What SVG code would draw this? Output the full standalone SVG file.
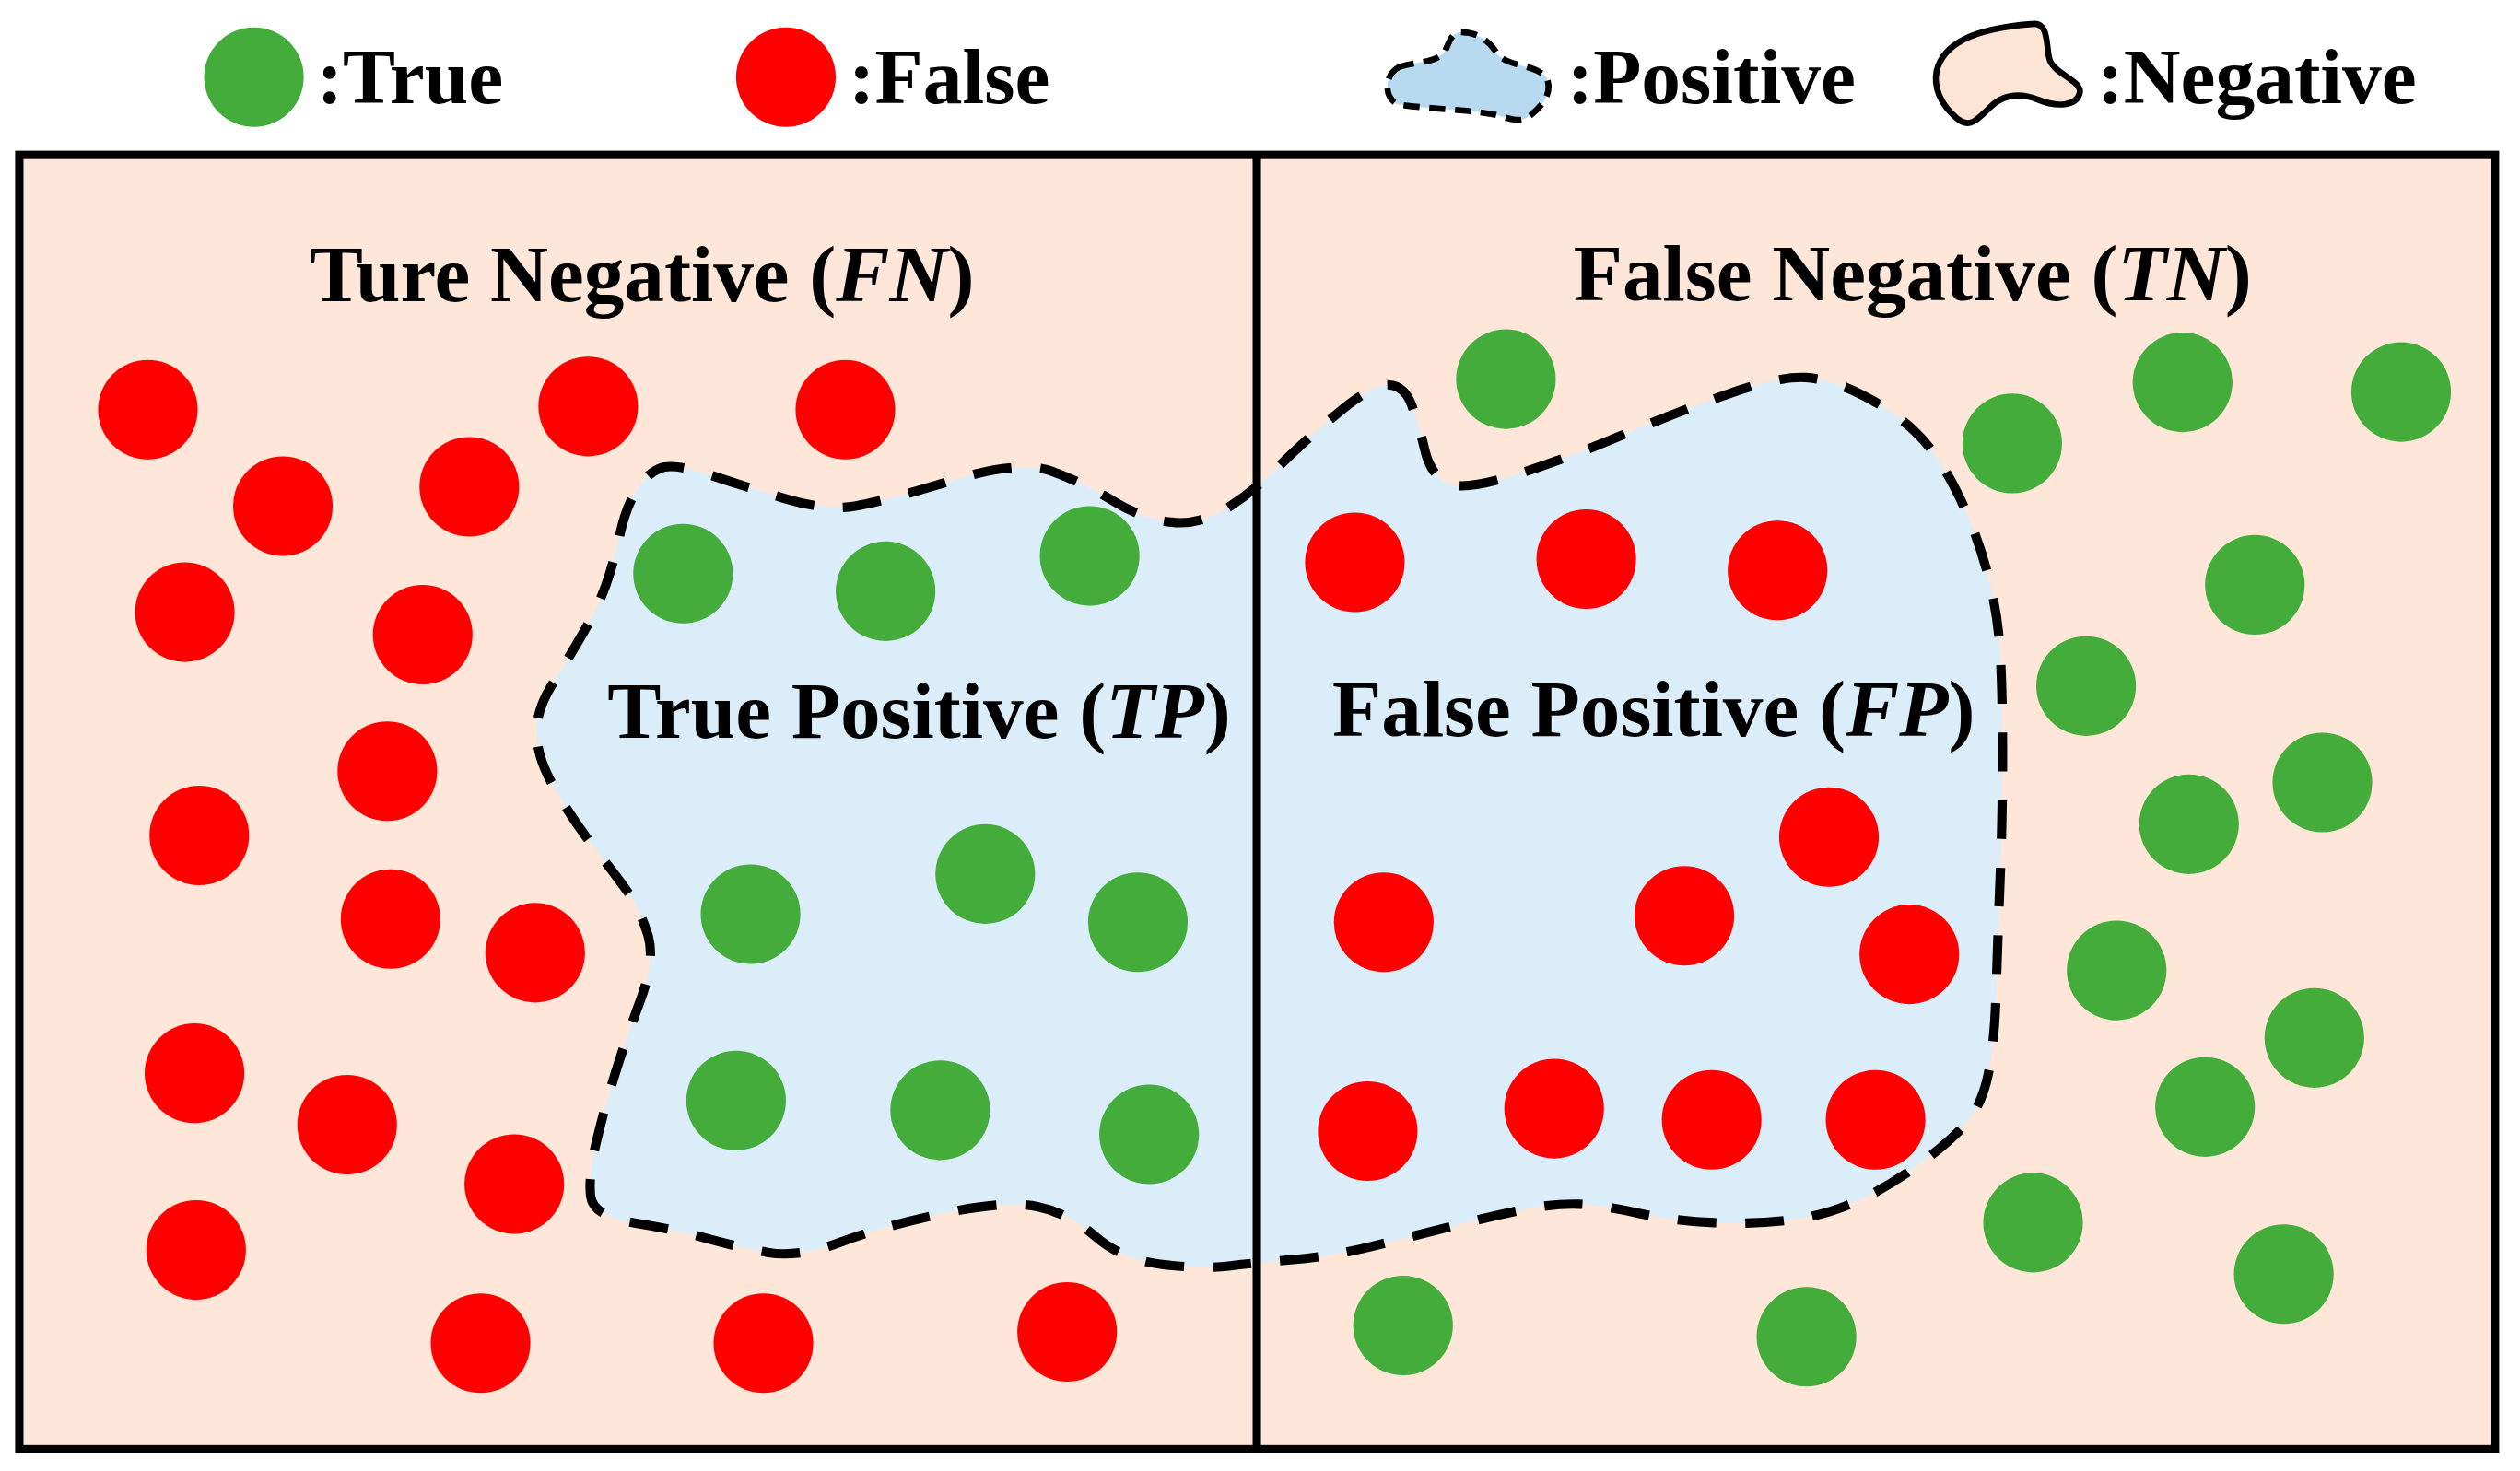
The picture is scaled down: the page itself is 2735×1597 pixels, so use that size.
<svg xmlns="http://www.w3.org/2000/svg" width="2735" height="1597" viewBox="0 0 2735 1597">
<style>
.t{font-family:"Liberation Serif","Times New Roman",serif;font-weight:bold;font-size:49px;fill:#000}
.h{font-size:50px}
.i{font-style:italic}
.g{fill:#43AC3B}
.r{fill:#FF0000}
.blob{fill:#DBEDF9;stroke:#000;stroke-width:5.8;stroke-dasharray:24 18;stroke-linejoin:round}
</style>
<rect width="2735" height="1597" fill="#fff"/>
<g transform="scale(1.7443)">
<g id="legend">
<g id="legend-true"><circle class="g" cx="158" cy="48" r="31"/><text class="t" x="197" y="64">:True</text></g>
<g id="legend-false"><circle class="r" cx="489" cy="48" r="31"/><text class="t" x="528" y="64">:False</text></g>
<g id="legend-positive"><path d="M870,42 C880,38 893,40 899,32 C902,26 903,20 909,20 C918,20 926,24 932,34 C940,42 955,40 962,48 C966,56 962,64 952,72 C945,78 936,72 928,71 C912,68 890,68 870,65 C862,62 860,48 870,42 Z" fill="#B7DAF0" stroke="#000" stroke-width="3.8" stroke-dasharray="10 6"/><text class="t" x="975" y="64">:Positive</text></g>
<g id="legend-negative"><path d="M1264,15 C1275,13 1273,28 1275,36 C1277,46 1296,50 1294,58 C1292,66 1280,67 1268,62 C1255,57 1245,60 1238,67 C1230,75 1225,80 1218,74 C1207,65 1203,54 1205,44 C1209,28 1226,18 1264,15 Z" fill="#FDE5D6" stroke="#000" stroke-width="3.8"/><text class="t" x="1305" y="64">:Negative</text></g>
</g>
<g id="frame"><rect x="12" y="96.4" width="1540.4" height="805.6" fill="#FEE6D8" stroke="#000" stroke-width="5.2"/></g>
<g id="positive-region"><path class="blob" d="M385.5,333.5 Q389,317 395.5,306 Q402,295 410.5,291.5 Q419,288 441.5,295.5 Q464,303 489,310.5 Q514,318 532,315 Q550,312 592.5,299 Q635,286 655,293.5 Q675,301 693,312 Q711,323 729,325 Q747,327 764,316 Q781,305 796,290 Q811,275 832.5,257 Q854,239 864,239.5 Q874,240 878.5,252.5 Q883,265 886.5,280 Q890,295 900,300.5 Q910,306 943,295.5 Q976,285 1009,271 Q1042,257 1074.5,245.5 Q1107,234 1123.5,235 Q1140,236 1160,246.5 Q1180,257 1193,270 Q1206,283 1217.5,306 Q1229,329 1236,354.5 Q1243,380 1244.5,405.5 Q1246,431 1246,469.5 Q1246,508 1244.5,546.5 Q1243,585 1242,617.5 Q1241,650 1237,669 Q1233,688 1223,699.5 Q1213,711 1193,725.5 Q1173,740 1153.5,748.5 Q1134,757 1112.5,759.5 Q1091,762 1066.5,761 Q1042,760 1019,755 Q996,750 982.5,749.5 Q969,749 952.5,752 Q936,755 906.5,762.5 Q877,770 852.5,776 Q828,782 804.5,784 Q781,786 764.5,788 Q748,790 723,787 Q698,784 681.5,769.5 Q665,755 645.5,751 Q626,747 588,755 Q550,763 523.5,773 Q497,783 477.5,779.5 Q458,776 438.5,770.5 Q419,765 394,761 Q369,757 367.5,744.5 Q366,732 371,711 Q376,690 382.5,669 Q389,648 398.5,622.5 Q408,597 403,581.5 Q398,566 391.5,556.5 Q385,547 372,530.5 Q359,514 349,497.5 Q339,481 336,470 Q333,459 334.5,448.5 Q336,438 344.5,424.5 Q353,411 362.5,394.5 Q372,378 377,364 Q382,350 385.5,333.5 Z"/></g>
<g id="true-negative-dots">
<circle class="r" cx="92" cy="255" r="31"/><circle class="r" cx="176" cy="315" r="31"/><circle class="r" cx="292" cy="303" r="31"/><circle class="r" cx="366" cy="253" r="31"/><circle class="r" cx="526" cy="255" r="31"/><circle class="r" cx="115" cy="381" r="31"/><circle class="r" cx="263" cy="395" r="31"/><circle class="r" cx="241" cy="480" r="31"/><circle class="r" cx="124" cy="520" r="31"/><circle class="r" cx="243" cy="572" r="31"/><circle class="r" cx="333" cy="593" r="31"/><circle class="r" cx="121" cy="668" r="31"/><circle class="r" cx="216" cy="700" r="31"/><circle class="r" cx="320" cy="737" r="31"/><circle class="r" cx="122" cy="778" r="31"/><circle class="r" cx="299" cy="836" r="31"/><circle class="r" cx="475" cy="836" r="31"/><circle class="r" cx="664" cy="829" r="31"/>
</g>
<g id="true-positive-dots">
<circle class="g" cx="425" cy="357" r="31"/><circle class="g" cx="551" cy="368" r="31"/><circle class="g" cx="678" cy="346" r="31"/><circle class="g" cx="467" cy="569" r="31"/><circle class="g" cx="613" cy="544" r="31"/><circle class="g" cx="708" cy="574" r="31"/><circle class="g" cx="458" cy="685" r="31"/><circle class="g" cx="585" cy="691" r="31"/><circle class="g" cx="715" cy="706" r="31"/>
</g>
<g id="false-positive-dots">
<circle class="r" cx="843" cy="350" r="31"/><circle class="r" cx="987" cy="348" r="31"/><circle class="r" cx="1106" cy="355" r="31"/><circle class="r" cx="861" cy="574" r="31"/><circle class="r" cx="1048" cy="570" r="31"/><circle class="r" cx="1138" cy="521" r="31"/><circle class="r" cx="1188" cy="594" r="31"/><circle class="r" cx="851" cy="704" r="31"/><circle class="r" cx="967" cy="690" r="31"/><circle class="r" cx="1065" cy="697" r="31"/><circle class="r" cx="1167" cy="697" r="31"/>
</g>
<g id="false-negative-dots">
<circle class="g" cx="937" cy="236" r="31"/><circle class="g" cx="1252" cy="276" r="31"/><circle class="g" cx="1358" cy="238" r="31"/><circle class="g" cx="1494" cy="244" r="31"/><circle class="g" cx="1403" cy="364" r="31"/><circle class="g" cx="1298" cy="427" r="31"/><circle class="g" cx="1362" cy="513" r="31"/><circle class="g" cx="1445" cy="487" r="31"/><circle class="g" cx="1317" cy="604" r="31"/><circle class="g" cx="1440" cy="646" r="31"/><circle class="g" cx="1372" cy="689" r="31"/><circle class="g" cx="1265" cy="761" r="31"/><circle class="g" cx="1421" cy="793" r="31"/><circle class="g" cx="873" cy="825" r="31"/><circle class="g" cx="1124" cy="832" r="31"/>
</g>
<g id="divider"><line x1="782" y1="96.4" x2="782" y2="902" stroke="#000" stroke-width="5.2"/></g>
<g id="labels">
<text class="t h" x="192.5" y="187.5">Ture Negative (<tspan class="i">FN</tspan>)</text>
<text class="t h" x="979" y="187">False Negative (<tspan class="i">TN</tspan>)</text>
<text class="t h" x="378" y="459">True Positive (<tspan class="i">TP</tspan>)</text>
<text class="t h" x="829" y="458">False Positive (<tspan class="i">FP</tspan>)</text>
</g>
</g>
</svg>
